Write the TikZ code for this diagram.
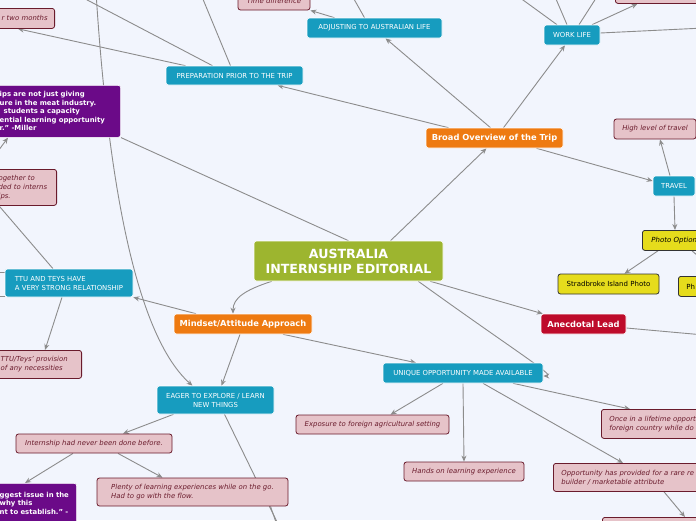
\documentclass[tikz,border=0pt]{standalone}
\usepackage{fontspec}
\setmainfont{DejaVu Sans}
\usetikzlibrary{arrows.meta,backgrounds}

\begin{document}
\begin{tikzpicture}[
  x=1pt, y=-1pt,
  box/.style={rounded corners=2.5pt, inner sep=0pt, align=center},
  rootbox/.style={box, fill=Root, draw=white, line width=0.6pt, text=white,
    font=\fontsize{12.6}{15}\selectfont\bfseries},
  topic/.style={box, fill=Topic, draw=white, line width=0.6pt, text=white,
    font=\fontsize{8.3}{10}\selectfont\bfseries},
  anec/.style={topic, fill=Lead},
  sub/.style={box, fill=Sub, draw=white, line width=0.6pt, text=white,
    font=\fontsize{6.9}{9}\selectfont},
  note/.style={box, fill=Note, draw=NoteEdge, line width=0.8pt, text=NoteEdge,
    font=\fontsize{6.9}{9}\selectfont\itshape},
  photo/.style={box, fill=Photo, draw=black!80, line width=0.8pt, text=black,
    font=\fontsize{7}{9}\selectfont},
  quote/.style={box, fill=Quote, draw=white, line width=0.6pt, text=white,
    font=\fontsize{6.9}{8.5}\selectfont\bfseries, align=left},
  link/.style={draw=Link, line width=0.9pt, -{Stealth[length=6pt,width=5pt]}},
  plain/.style={draw=Link, line width=0.9pt},
]
\definecolor{Bg}{HTML}{F2F5FD}
\definecolor{Root}{HTML}{9DB52F}
\definecolor{Topic}{HTML}{EE7A11}
\definecolor{Lead}{HTML}{BE0B2B}
\definecolor{Sub}{HTML}{179CBF}
\definecolor{Note}{HTML}{E6C3C9}
\definecolor{NoteEdge}{HTML}{6A1B2C}
\definecolor{Photo}{HTML}{E6DC1C}
\definecolor{Quote}{HTML}{6B0A88}
\definecolor{Link}{HTML}{8C8C8C}

\useasboundingbox (0,0) rectangle (696,520);
\clip (0,0) rectangle (696,520);

% ---- centre and main topics ----
\node[rootbox, minimum width=189pt, minimum height=40pt] (root) at (348.5,261)
  {AUSTRALIA\\INTERNSHIP EDITORIAL};
\node[topic, minimum width=137pt, minimum height=20pt] (broad) at (494.5,138)
  {Broad Overview of the Trip};
\node[topic, minimum width=138pt, minimum height=20pt] (mindset) at (243,324)
  {Mindset/Attitude Approach};
\node[anec, minimum width=85pt, minimum height=20pt] (lead) at (583.5,324)
  {Anecdotal Lead};

% ---- sub topics ----
\node[sub, minimum width=137pt, minimum height=19pt] (prep) at (234.5,75.5)
  {PREPARATION PRIOR TO THE TRIP};
\node[sub, minimum width=135pt, minimum height=20pt] (adjust) at (374.5,28)
  {ADJUSTING TO AUSTRALIAN LIFE};
\node[sub, minimum width=56pt, minimum height=20pt] (work) at (572,35) {WORK LIFE};
\node[sub, minimum width=42pt, minimum height=20pt] (travel) at (674,186) {TRAVEL};
\node[sub, minimum width=128pt, minimum height=28pt, align=left] (ttu) at (69,283)
  {TTU AND TEYS HAVE\\A VERY STRONG RELATIONSHIP};
\node[sub, minimum width=117pt, minimum height=28pt] (eager) at (215.5,400)
  {EAGER TO EXPLORE / LEARN\\NEW THINGS};
\node[sub, minimum width=160pt, minimum height=20pt] (unique) at (463,373)
  {UNIQUE OPPORTUNITY MADE AVAILABLE};

% ---- notes ----
\node[note, anchor=north east, text width=90pt, align=right, inner xsep=7pt,
  minimum height=20pt] (months) at (55,8) {r two months};
\node[note, minimum width=72pt, minimum height=18pt] (time) at (274,1) {Time difference};
\node[note, anchor=north west, minimum width=100pt, minimum height=23pt] (topright)
  at (615,-20) {};
\node[note, minimum width=82pt, minimum height=20pt] (high) at (655,129)
  {High level of travel};
\node[note, anchor=north east, text width=53pt, align=left, inner xsep=5pt,
  minimum height=36pt] (together) at (57,169) {ogether to\\ded to interns\\ips.};
\node[note, anchor=north east, text width=76pt, align=left, inner xsep=5pt,
  minimum height=28pt] (provide) at (82,350) {TTU/Teys' provision\\of any necessities};
\node[note, minimum width=156pt, minimum height=19pt] (never) at (94,443.5)
  {Internship had never been done before.};
\node[note, minimum width=191pt, minimum height=28pt, align=left] (plenty) at (192.5,492)
  {Plenty of learning experiences while on the go.\\Had to go with the flow.};
\node[note, minimum width=153pt, minimum height=19pt] (expose) at (372.5,424.5)
  {Exposure to foreign agricultural setting};
\node[note, minimum width=120pt, minimum height=19pt] (hands) at (464,471.5)
  {Hands on learning experience};
\node[note, anchor=north west, text width=120pt, align=left, inner xsep=8pt,
  minimum height=29pt] (once) at (601,409)
  {Once in a lifetime opport\\foreign country while do};
\node[note, anchor=north west, text width=170pt, align=left, inner xsep=8pt,
  minimum height=28pt] (rare) at (553,463)
  {Opportunity has provided for a rare re\\builder / marketable attribute};
\node[note, anchor=north west, minimum width=100pt, minimum height=20pt] (bottomright)
  at (602,517) {};

% ---- photo options ----
\node[photo, anchor=north west, text width=70pt, align=left, inner xsep=9pt,
  minimum height=20pt, font=\fontsize{7}{9}\selectfont\itshape] (options)
  at (642,230) {Photo Options};
\node[photo, minimum width=101pt, minimum height=20pt] (island) at (608.5,284)
  {Stradbroke Island Photo};
\node[photo, anchor=north west, text width=40pt, align=left, inner xsep=8pt,
  minimum height=20pt] (photoB) at (678,276) {Ph};

% ---- quotes ----
\node[quote, anchor=north east, text width=116pt, inner xsep=5pt,
  minimum height=52pt] (miller) at (121,85)
  {ips are not just giving\\ure in the meat industry.\\\hspace*{4pt}students a capacity\\ential learning opportunity\\r." -Miller};
\node[quote, anchor=north east, text width=72pt, inner xsep=5pt,
  minimum height=40pt] (issue) at (77,483)
  {ggest issue in the\\why this\\nt to establish." -};

% ---- free ends ----
\coordinate (prepA) at (72,-8);
\coordinate (prepB) at (200,-8);
\coordinate (adjustA) at (350,-8);
\coordinate (workA) at (512,-8);
\coordinate (workB) at (553,-8);
\coordinate (workC) at (600,-8);
\coordinate (workD) at (704,28);
\coordinate (photoC) at (712,268);
\coordinate (leadA) at (704,335);
\coordinate (ttuA) at (-6,200);
\coordinate (ttuB) at (-8,272);
\coordinate (ttuC) at (-8,296);
\coordinate (farleft) at (-10,162);
\coordinate (longtop) at (96,-8);
\coordinate (eagerA) at (280,528);
\coordinate (plentyA) at (278,528);

% ---- connectors ----
\begin{scope}[on background layer]
  \fill[Bg] (0,0) rectangle (696,520);
  \draw[plain] (root.north) -- (miller.south east);
  \draw[link] (longtop) .. controls (106,150) and (130,330) .. ([xshift=-23pt]eager.north);
  \draw[link] ([xshift=42pt]root.north) -- ([xshift=-8pt]broad.south);
  \draw[link] ([xshift=-13pt]root.south east) -- ([xshift=2pt]lead.north west);
  \draw[link] ([xshift=-25pt]root.south east) .. controls (515,351) and (556,376) .. ([yshift=-3pt]unique.east);
  \draw[link] ([xshift=18pt]root.south west) .. controls (245,290) and (233,298) .. ([xshift=-10pt]mindset.north);
  \draw[link] ([xshift=-46pt]broad.north) -- ([xshift=43pt]prep.south);
  \draw[link] ([xshift=-4pt]broad.north) -- ([xshift=11pt]adjust.south);
  \draw[link] ([xshift=9pt]broad.north) -- ([xshift=-7pt]work.south);
  \draw[link] ([xshift=42pt]broad.south) -- ([yshift=5pt]travel.west);
  \draw[link] ([xshift=-49pt]prep.north) -- ([xshift=-37pt]months.south east);
  \draw[plain] ([xshift=-22pt]prep.north) -- (prepA);
  \draw[plain] ([xshift=-4pt]prep.north) -- (prepB);
  \draw[link] ([xshift=-40pt]adjust.north) -- (time.south east);
  \draw[plain] ([xshift=-10pt]adjust.north) -- (adjustA);
  \draw[plain] ([xshift=-15pt]work.north) -- (workA);
  \draw[plain] ([xshift=-5pt]work.north) -- (workB);
  \draw[plain] ([xshift=7pt]work.north) -- (workC);
  \draw[link] ([xshift=20pt]work.north) -- ([xshift=-28pt]topright.south);
  \draw[plain] ([yshift=2pt]work.east) -- (workD);
  \draw[link] ([xshift=-4pt]travel.north) -- ([xshift=5pt]high.south);
  \draw[link] (travel.south) -- ([xshift=33pt]options.north west);
  \draw[link] ([xshift=16pt]options.south west) -- ([xshift=16pt]island.north);
  \draw[plain] ([xshift=50pt]options.south west) -- (photoC);
  \draw[plain] ([yshift=-4pt]lead.east) -- (leadA);
  \draw[plain] ([xshift=-16pt]ttu.north) -- (ttuA);
  \draw[link] (farleft) -- ([xshift=-113pt]miller.south east);
  \draw[plain] ([yshift=11pt]ttu.west) -- (ttuB);
  \draw[plain] ([yshift=-13pt]ttu.west) -- (ttuC);
  \draw[link] ([xshift=-7pt]ttu.south) -- ([xshift=-37pt]provide.north east);
  \draw[link] ([xshift=-47pt]mindset.north) -- (ttu.south east);
  \draw[link] ([xshift=-3pt]mindset.south) -- ([xshift=6pt]eager.north);
  \draw[link] ([xshift=40pt]mindset.south) -- ([xshift=-47pt]unique.north);
  \draw[link] ([xshift=-42pt]eager.south) -- ([xshift=29pt]never.north);
  \draw[plain] ([xshift=9pt]eager.south) -- (eagerA);
  \draw[link] ([xshift=-21pt]never.south) -- ([xshift=-52pt]issue.north east);
  \draw[link] ([xshift=24pt]never.south) -- ([xshift=-30pt]plenty.north);
  \draw[plain] ([xshift=78pt]plenty.south) -- (plentyA);
  \draw[link] ([xshift=-20pt]unique.south) -- ([xshift=18pt]expose.north);
  \draw[link] (unique.south) -- (hands.north);
  \draw[link] ([xshift=50pt]unique.south) -- ([xshift=29pt]once.north west);
  \draw[link] ([xshift=20pt]unique.south) -- ([xshift=70pt]rare.north west);
  \draw[link] ([xshift=111pt]rare.south west) -- ([xshift=83pt]bottomright.north west);
\end{scope}
\end{tikzpicture}
\end{document}
